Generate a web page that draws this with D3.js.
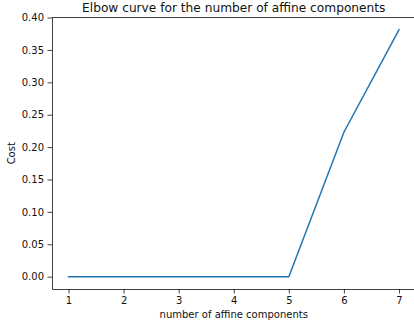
<!DOCTYPE html>
<html>
  <head>
    <meta charset="UTF-8">
    <title>Elbow curve</title>
    <script src="https://d3js.org/d3.v7.min.js"></script>
    <style>
      body { margin: 0; background: #fff; }
      text { font-family: "DejaVu Sans", sans-serif; fill: #111; }
      .tick line { stroke: #111; stroke-width: 0.8px; }
      .domain { stroke: #111; stroke-width: 0.8px; }
    </style>
  </head>
  <body>
    <div id="chart"></div>
    <script>
      // values
      const components = [1, 2, 3, 4, 5, 6, 7];
      const cost = [0, 0, 0, 0, 0, 0.223, 0.381];
      const yTicks = [0, 0.05, 0.10, 0.15, 0.20, 0.25, 0.30, 0.35, 0.40];

      const width = 414;
      const height = 326;
      const margin = { top: 17.5, right: -1.5, bottom: 37, left: 52 };

      const svg = d3.select("#chart")
        .append("svg")
        .attr("width", width)
        .attr("height", height);

      // matplotlib style 5% padding
      const xPad = (d3.max(components) - d3.min(components)) * 0.05;
      const yPad = (d3.max(cost) - d3.min(cost)) * 0.05;

      const x = d3.scaleLinear()
        .domain([d3.min(components) - xPad, d3.max(components) + xPad])
        .range([margin.left, width - margin.right]);

      const y = d3.scaleLinear()
        .domain([d3.min(cost) - yPad, d3.max(cost) + yPad])
        .range([height - margin.bottom, margin.top]);

      // top spine
      svg.append("line")
        .attr("x1", margin.left)
        .attr("x2", width - margin.right)
        .attr("y1", margin.top)
        .attr("y2", margin.top)
        .attr("stroke", "#111")
        .attr("stroke-width", 0.8);

      const xAxis = svg.append("g")
        .attr("transform", `translate(0, ${height - margin.bottom})`)
        .call(d3.axisBottom(x).tickValues(components).tickFormat(d3.format("d"))
          .tickSizeInner(4.5).tickSizeOuter(0).tickPadding(3));
      xAxis.selectAll("text").style("font-size", "10px");

      const yAxis = svg.append("g")
        .attr("transform", `translate(${margin.left}, 0)`)
        .call(d3.axisLeft(y).tickValues(yTicks).tickFormat(d3.format(".2f"))
          .tickSizeInner(4.5).tickSizeOuter(0).tickPadding(3.5));
      yAxis.selectAll("text").style("font-size", "10px");

      const line = d3.line()
        .x((d, i) => x(components[i]))
        .y(d => y(d));

      svg.append("path")
        .datum(cost)
        .attr("d", line)
        .attr("fill", "none")
        .attr("stroke", "#1f77b4")
        .attr("stroke-width", 1.5)
        .attr("stroke-linecap", "square");

      svg.append("text")
        .attr("x", (margin.left + width - margin.right) / 2)
        .attr("y", 12)
        .attr("text-anchor", "middle")
        .style("font-size", "12.2px")
        .text("Elbow curve for the number of affine components");

      svg.append("text")
        .attr("x", (margin.left + width - margin.right) / 2)
        .attr("y", 318)
        .attr("text-anchor", "middle")
        .style("font-size", "10px")
        .text("number of affine components");

      svg.append("text")
        .attr("transform", `translate(15, ${(margin.top + height - margin.bottom) / 2}) rotate(-90)`)
        .attr("text-anchor", "middle")
        .style("font-size", "10px")
        .text("Cost");
    </script>
  </body>
</html>
